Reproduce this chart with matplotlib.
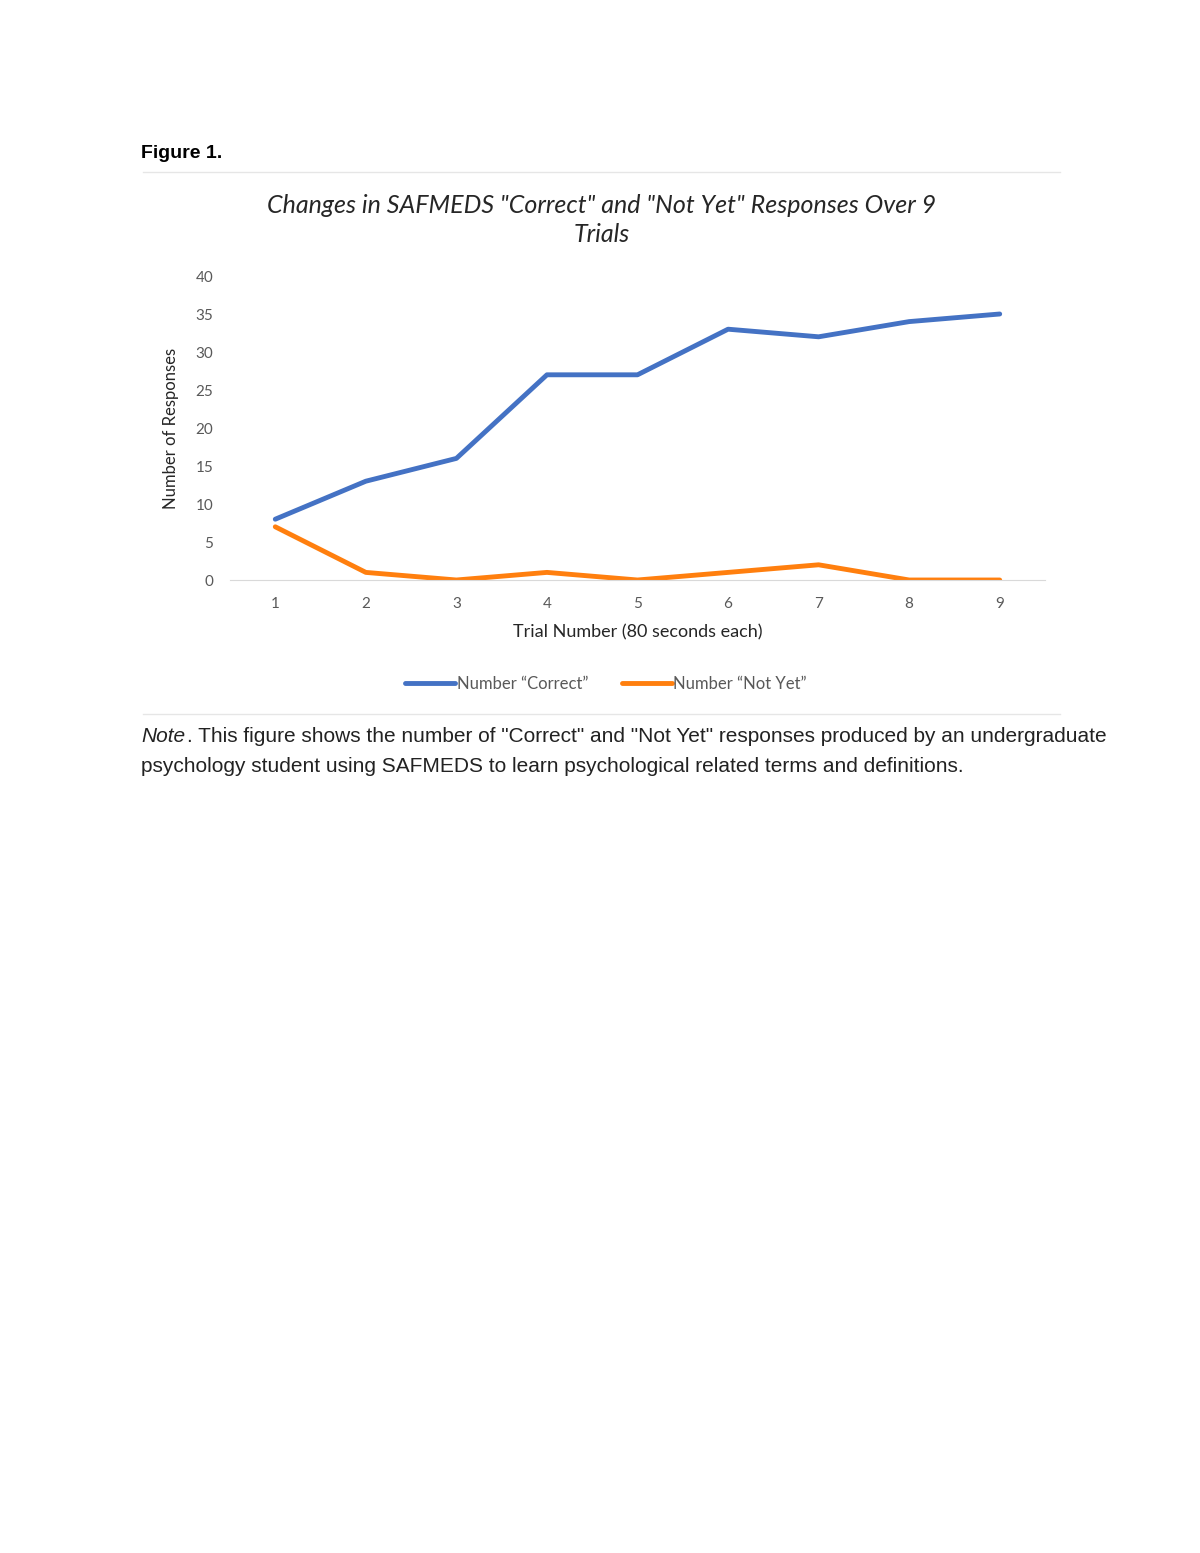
import matplotlib
matplotlib.use('Agg')
import matplotlib.pyplot as plt
from matplotlib.lines import Line2D

W, H = 1200, 1553

trials = [1, 2, 3, 4, 5, 6, 7, 8, 9]
correct = [8, 13, 16, 27, 27, 33, 32, 34, 35]
not_yet = [7, 1, 0, 1, 0, 1, 2, 0, 0]
y_ticks = [0, 5, 10, 15, 20, 25, 30, 35, 40]

BLUE = '#4472c4'
ORANGE = '#ff7f0e'
GREY = '#595959'

fig = plt.figure(figsize=(W / 100, H / 100), dpi=100)
fig.patch.set_facecolor('white')

def fx(px):
    return px / W

def fy(py):
    return 1 - py / H

# document text
fig.text(fx(141), fy(154), 'Figure 1.', fontsize=14, fontweight='bold',
         family='Liberation Sans', va='center')
for y in (172, 714):
    fig.add_artist(Line2D([fx(143), fx(1060)], [fy(y), fy(y)], color='#e6e6e6', lw=1))
fig.text(fx(602), fy(220), 'Changes in SAFMEDS "Correct" and "Not Yet" Responses Over 9\nTrials',
         fontsize=18, style='italic', family='Lato', color='#262626',
         ha='center', va='center', linespacing=1.35)

# chart
ax = fig.add_axes([fx(230), fy(580), fx(1045) - fx(230), fy(276) - fy(580)])
ax.plot(trials, correct, color=BLUE, lw=3.5, solid_capstyle='round', label='Number \u201cCorrect\u201d')
ax.plot(trials, not_yet, color=ORANGE, lw=3.5, solid_capstyle='round', label='Number \u201cNot Yet\u201d')
ax.set_xlim(0.5, 9.5)
ax.set_ylim(0, 40)
ax.set_xticks(trials)
ax.set_yticks(y_ticks)
for s in ('top', 'right', 'left'):
    ax.spines[s].set_visible(False)
ax.spines['bottom'].set_color('#d9d9d9')
ax.tick_params(length=0, colors=GREY, labelsize=11, pad=12)
for lab in ax.get_xticklabels() + ax.get_yticklabels():
    lab.set_family('Lato')
ax.set_xlabel('Trial Number (80 seconds each)', fontsize=13, family='Lato',
              color='#262626', labelpad=10)
ax.set_ylabel('Number of Responses', fontsize=12, family='Lato', color='#262626', labelpad=12)

leg = fig.legend(loc='center', bbox_to_anchor=(fx(606), fy(684)), ncol=2, frameon=False,
                 prop={'family': 'Lato', 'size': 12}, handlelength=3, columnspacing=2,
                 handletextpad=0.1)
for t in leg.get_texts():
    t.set_color(GREY)

fig.text(fx(141), fy(737), r'$\it{Note}$' if False else 'Note', fontsize=15, style='italic',
         family='Liberation Sans', va='center', color='#222222')
fig.text(fx(187), fy(737), '. This figure shows the number of "Correct" and "Not Yet" responses produced by an undergraduate',
         fontsize=15, family='Liberation Sans', va='center', color='#222222')
fig.text(fx(141), fy(766), 'psychology student using SAFMEDS to learn psychological related terms and definitions.',
         fontsize=15, family='Liberation Sans', va='center', color='#222222')

fig.savefig('out.png', dpi=100, facecolor='white')
